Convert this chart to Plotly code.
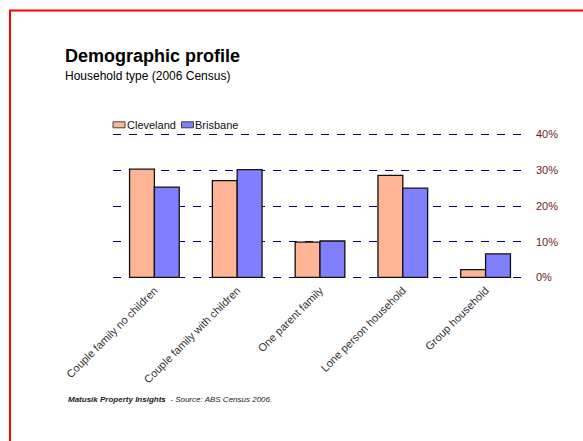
import plotly.graph_objects as go

categories = ["Couple family no children", "Couple family with children",
              "One parent family", "Lone person household", "Group household"]
cleveland = [30.3, 27.1, 9.9, 28.6, 2.2]
brisbane = [25.3, 30.2, 10.2, 25.0, 6.6]
tick_vals = [0, 10, 20, 30, 40]
tick_text = ["0%", "10%", "20%", "30%", "40%"]
series_names = ["Cleveland", "Brisbane"]
series_colors = ["#FFB595", "#8080FF"]

W, H = 583, 441
ML, MR, MT, MB = 113, 56, 130.7, 160.1
PW, PH = W - ML - MR, H - MT - MB


def px(x):
    return (x - ML) / PW


def py(y):
    return (H - MB - y) / PH


fig = go.Figure()
for name, vals, col in zip(series_names, [cleveland, brisbane], series_colors):
    fig.add_trace(go.Bar(name=name, x=categories, y=vals,
                         marker=dict(color=col, line=dict(color="#111111", width=1.3))))

# compact legend (swatch + label) like the original
legend_x = [113, 181.5]
shapes = []
annotations = []
for lx, name, col in zip(legend_x, series_names, series_colors):
    shapes.append(dict(type="rect", xref="paper", yref="paper",
                       x0=px(lx), x1=px(lx + 12), y0=py(127.5), y1=py(121.5),
                       fillcolor=col, line=dict(color="#444444", width=1)))
    annotations.append(dict(text=name, xref="paper", yref="paper",
                            x=px(lx + 12.5), y=py(124.5), xanchor="left", yanchor="middle",
                            showarrow=False, borderpad=0,
                            font=dict(size=11, color="#111111")))

shapes += [
    dict(type="line", xref="paper", yref="paper", x0=px(10), x1=px(10), y0=py(442), y1=py(10),
         line=dict(color="#FF0000", width=2)),
    dict(type="line", xref="paper", yref="paper", x0=px(9), x1=px(584), y0=py(10), y1=py(10),
         line=dict(color="#FF0000", width=2)),
]

annotations += [
    dict(text="<b>Demographic profile</b>", xref="paper", yref="paper",
         x=px(63), y=py(56), xanchor="left", yanchor="middle", showarrow=False,
         font=dict(size=18, color="#000000")),
    dict(text="Household type (2006 Census)", xref="paper", yref="paper",
         x=px(63), y=py(76), xanchor="left", yanchor="middle", showarrow=False,
         font=dict(size=12, color="#000000")),
    dict(text="<b><i>Matusik Property Insights</i></b>  <i>- Source: ABS Census 2006.</i>",
         xref="paper", yref="paper", x=px(66), y=py(400), xanchor="left", yanchor="middle",
         showarrow=False, font=dict(size=8, color="#222222")),
]

fig.update_layout(
    width=W, height=H,
    margin=dict(l=ML, r=MR, t=MT, b=MB, pad=0),
    paper_bgcolor="white", plot_bgcolor="white",
    barmode="group", bargap=0.4, bargroupgap=0,
    font=dict(family="Arial, Liberation Sans, sans-serif", color="#222222"),
    showlegend=False,
    xaxis=dict(tickangle=-45, tickfont=dict(size=11, color="#333333"),
               showgrid=False, showline=False, ticks="", zeroline=False),
    yaxis=dict(side="right", range=[-1, 41], tickvals=tick_vals, ticktext=tick_text,
               tickfont=dict(size=11, color="#6E1C1C"), ticks="", ticklabelstandoff=8,
               showgrid=True, gridcolor="#000080", gridwidth=1, griddash="8px,8px",
               zeroline=False, showline=False),
    annotations=annotations,
    shapes=shapes,
)

fig.write_html("out.html")
